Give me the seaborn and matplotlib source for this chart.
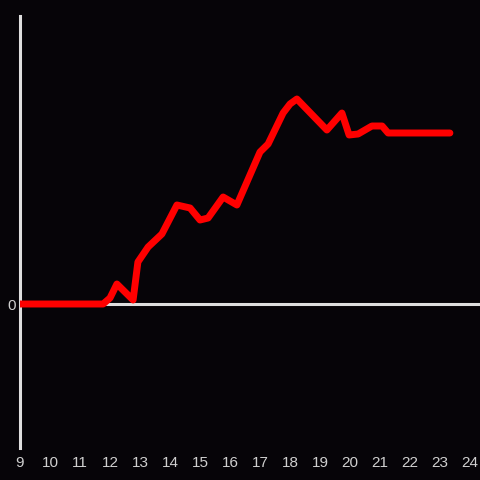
import numpy as np
import pandas as pd
import matplotlib
matplotlib.use("Agg")
import matplotlib.pyplot as plt
import seaborn as sns

# hour of day and value
hours = [9.0, 11.77, 12.0, 12.23, 12.77, 12.93, 13.27, 13.73, 14.23, 14.67, 15.0,
         15.27, 15.77, 16.23, 17.0, 17.27, 17.77, 18.0, 18.23, 19.23, 19.73, 19.97,
         20.27, 20.73, 21.07, 21.27, 23.33]
values = [0, 0, 6, 20, 4, 42, 57, 70, 99, 96, 84,
          86, 107, 99, 152, 160, 191, 200, 205, 174, 191, 169,
          170, 178, 178, 171, 171]
xticks = list(range(9, 25))

bg = "#060408"
fg = "#dedede"

sns.set_style("dark")
plt.rcParams['font.family'] = ['Liberation Sans', 'DejaVu Sans']

df = pd.DataFrame({"hour": hours, "value": values})

fig = plt.figure(figsize=(4.8, 4.8), dpi=100, facecolor=bg)
ax = fig.add_axes([20/480, 32/480, 460/480, 432/480])
ax.set_facecolor(bg)

ax.axhline(0, color=fg, lw=2.2, zorder=1)
sns.lineplot(data=df, x="hour", y="value", ax=ax, color="#ff0000", lw=5, zorder=3)

ax.set_xlim(9, 24.333)
ax.set_ylim(-144, 288)
ax.set_xticks(xticks)
ax.set_yticks([0])
ax.tick_params(colors="#cfcfcf", labelsize=11, length=0, pad=6)
ax.tick_params(axis="y", pad=3)
ax.set_xlabel("")
ax.set_ylabel("")
ax.grid(False)
for s in ["top", "right", "bottom"]:
    ax.spines[s].set_visible(False)
ax.spines["left"].set_color(fg)
ax.spines["left"].set_linewidth(2.2)

plt.savefig("out.png", facecolor=bg)
